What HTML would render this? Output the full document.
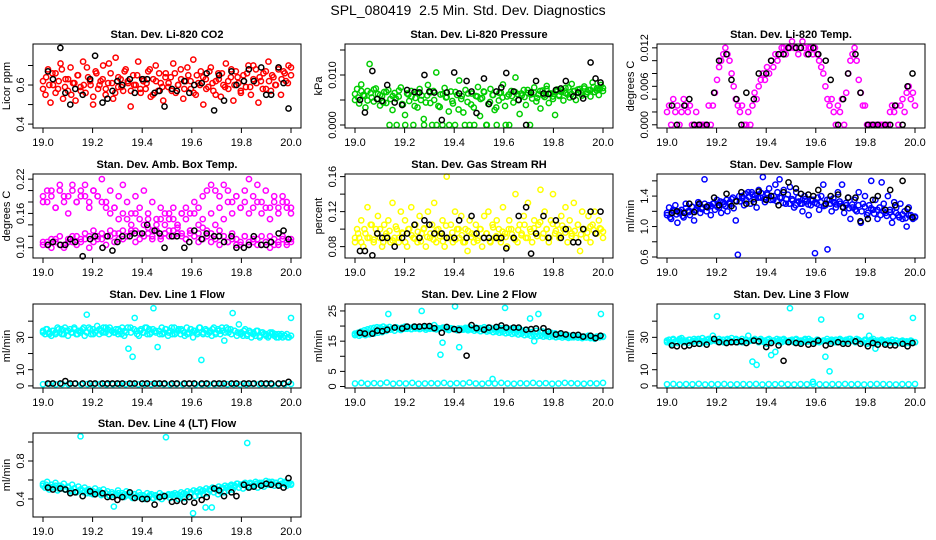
<!DOCTYPE html>
<html><head><meta charset="utf-8">
<style>
html,body{margin:0;padding:0;background:#fff;}
svg{display:block;font-family:"Liberation Sans",Arial,sans-serif;}
</style></head>
<body>
<svg id="chart" width="936" height="540" viewBox="0 0 936 540" xmlns="http://www.w3.org/2000/svg">
<rect width="936" height="540" fill="#fff"/>
<text x="468" y="15" text-anchor="middle" font-size="14">SPL_080419&#160; 2.5 Min. Std. Dev. Diagnostics</text>
</svg>
<script>
// ---- shared data ----
const xTicks = [19.0, 19.2, 19.4, 19.6, 19.8, 20.0];
const xTickLabels = ["19.0", "19.2", "19.4", "19.6", "19.8", "20.0"];
const blackTimes = [19.02,19.04,19.07,19.09,19.11,19.13,19.16,19.19,19.21,19.24,19.26,19.28,19.30,19.32,19.35,19.37,19.40,19.42,19.45,19.47,19.49,19.52,19.54,19.57,19.59,19.61,19.64,19.66,19.69,19.71,19.73,19.76,19.78,19.81,19.83,19.85,19.88,19.90,19.92,19.95,19.97,19.99];

// Panel 1: CO2
const co2Values = [0.62,0.55,0.68,0.51,0.60,0.66,0.58,0.71,0.53,0.63,0.57,0.69,0.61,0.52,0.65,0.59,0.72,0.56,0.64,0.60,0.50,0.67,0.58,0.62,0.70,0.55,0.61,0.66,0.53,0.74,0.59,0.63,0.57,0.68,0.61,0.49,0.65,0.60,0.72,0.56,0.62,0.58,0.67,0.54,0.63,0.70,0.57,0.61,0.52,0.66,0.59,0.64,0.71,0.56,0.60,0.68,0.53,0.62,0.65,0.58,0.73,0.55,0.61,0.67,0.50,0.63,0.59,0.69,0.57,0.62,0.66,0.54,0.60,0.71,0.58,0.64,0.52,0.67,0.61,0.56,0.65,0.59,0.70,0.55,0.63,0.68,0.51,0.62,0.66,0.58,0.72,0.57,0.64,0.60,0.69,0.55,0.67,0.62,0.70,0.65];
const co2Values2 = [0.58,0.64,0.60,0.66,0.56,0.62,0.68,0.59,0.63,0.55,0.61,0.65,0.57,0.60,0.69,0.62,0.54,0.66,0.60,0.63,0.58,0.71,0.61,0.56,0.64,0.59,0.67,0.62,0.57,0.60,0.65,0.58,0.63,0.61,0.68,0.55,0.62,0.66,0.59,0.64,0.61,0.57,0.66,0.60,0.63,0.58,0.69,0.62,0.56,0.65,0.60,0.64,0.58,0.67,0.61,0.55,0.63,0.66,0.59,0.62,0.68,0.60,0.64,0.57,0.62,0.66,0.59,0.70,0.61,0.64,0.58,0.67,0.62,0.65,0.60,0.68,0.63,0.66,0.61,0.69];
const co2Black = [0.67,0.63,0.79,0.56,0.50,0.58,0.55,0.63,0.75,0.51,0.53,0.57,0.62,0.60,0.63,0.56,0.63,0.63,0.56,0.57,0.49,0.58,0.57,0.62,0.56,0.60,0.61,0.66,0.47,0.65,0.52,0.67,0.60,0.62,0.68,0.62,0.69,0.55,0.55,0.69,0.61,0.48];
const co2Ticks = [0.4,0.5,0.6,0.7];
const co2TickLabels = ["0.4","","0.6",""];

// Panel 2: pressure
const presValues = [0.0050,0.0072,0.0043,0.0081,0.0060,0.0035,0.0068,0.0122,0.0055,0.0047,0.0073,0.0062,0.0039,0.0058,0.0066,0.0044,0.0070,0.0052,0.0030,0.0064,0.0000,0.0057,0.0075,0.0041,0.0020,0.0063,0.0048,0.0068,0.0000,0.0054,0.0035,0.0072,0.0059,0.0012,0.0045,0.0080,0.0065,0.0000,0.0050,0.0105,0.0038,0.0061,0.0000,0.0074,0.0056,0.0027,0.0067,0.0043,0.0000,0.0060,0.0089,0.0052,0.0025,0.0070,0.0046,0.0000,0.0063,0.0035,0.0058,0.0076,0.0018,0.0054,0.0066,0.0000,0.0042,0.0072,0.0060,0.0030,0.0000,0.0049,0.0065,0.0081,0.0038,0.0057,0.0000,0.0068,0.0045,0.0095,0.0062,0.0022,0.0059,0.0070,0.0040,0.0064,0.0000,0.0053,0.0075,0.0047,0.0061,0.0033,0.0069,0.0056,0.0078,0.0044,0.0063,0.0052,0.0020,0.0071,0.0058,0.0066,0.0049,0.0074,0.0061,0.0055,0.0082,0.0068,0.0050,0.0064,0.0072,0.0059,0.0077,0.0062,0.0070,0.0057,0.0085,0.0066,0.0073,0.0060,0.0080,0.0068];
const presValues2 = [0.0062,0.0055,0.0068,0.0058,0.0049,0.0064,0.0071,0.0052,0.0060,0.0045,0.0066,0.0000,0.0058,0.0053,0.0069,0.0042,0.0000,0.0061,0.0057,0.0038,0.0065,0.0050,0.0000,0.0059,0.0044,0.0068,0.0000,0.0036,0.0062,0.0055,0.0000,0.0048,0.0066,0.0031,0.0058,0.0000,0.0063,0.0041,0.0000,0.0057,0.0052,0.0067,0.0000,0.0046,0.0060,0.0035,0.0064,0.0055,0.0000,0.0061,0.0058,0.0066,0.0050,0.0063,0.0056,0.0070,0.0061,0.0065,0.0054,0.0068,0.0059,0.0072,0.0063,0.0057,0.0067,0.0060,0.0070,0.0064,0.0075,0.0062,0.0068,0.0071,0.0065,0.0073,0.0066,0.0070,0.0076,0.0069,0.0072,0.0074];
const presBlack = [0.0050,0.0025,0.0108,0.0052,0.0048,0.0080,0.0045,0.0040,0.0070,0.0066,0.0065,0.0100,0.0067,0.0065,0.0010,0.0065,0.0105,0.0063,0.0088,0.0067,0.0024,0.0093,0.0042,0.0067,0.0075,0.0104,0.0067,0.0050,0.0000,0.0065,0.0088,0.0063,0.0062,0.0070,0.0073,0.0088,0.0057,0.0065,0.0053,0.0125,0.0093,0.0085];
const presTicks = [0,0.005,0.010,0.015];
const presTickLabels = ["0.000","","0.010",""];

// Panel 3: Li-820 temp
const ltempValues = [0.002,0.003,0.000,0.004,0.002,0.003,0.000,0.002,0.004,0.003,0.002,0.003,0.000,0.000,0.002,0.000,0.000,0.000,0.000,0.000,0.003,0.000,0.003,0.005,0.007,0.009,0.010,0.011,0.012,0.011,0.010,0.008,0.006,0.004,0.003,0.002,0.003,0.000,0.000,0.002,0.000,0.003,0.005,0.004,0.006,0.007,0.008,0.007,0.009,0.008,0.010,0.009,0.011,0.010,0.011,0.012,0.012,0.011,0.012,0.012,0.013,0.012,0.012,0.011,0.012,0.013,0.012,0.011,0.012,0.012,0.011,0.012,0.011,0.010,0.009,0.008,0.006,0.004,0.003,0.004,0.002,0.000,0.003,0.002,0.004,0.000,0.005,0.008,0.010,0.011,0.012,0.010,0.007,0.005,0.003,0.003,0.000,0.000,0.000,0.000,0.000,0.000,0.000,0.000,0.000,0.000,0.000,0.002,0.003,0.002,0.003,0.000,0.003,0.004,0.002,0.005,0.006,0.004,0.005,0.003];
const ltempBlack = [0.003,0.000,0.003,0.004,0.000,0.000,0.000,0.005,0.010,0.011,0.007,0.004,0.000,0.005,0.004,0.008,0.008,0.010,0.011,0.011,0.012,0.012,0.012,0.011,0.012,0.011,0.010,0.007,0.000,0.004,0.008,0.011,0.005,0.000,0.000,0.000,0.000,0.000,0.003,0.000,0.006,0.008];
const ltempTicks = [0,0.002,0.004,0.006,0.008,0.010,0.012];
const ltempTickLabels = ["0.000","","","0.006","","","0.012"];

// Panel 4: amb box temp
const boxUpper = [0.19,0.18,0.20,0.17,0.21,0.19,0.16,0.20,0.18,0.19,0.21,0.17,0.20,0.19,0.22,0.18,0.20,0.17,0.19,0.21,0.18,0.16,0.19,0.17,0.20,0.16,0.18,0.15,0.17,0.16,0.15,0.17,0.14,0.16,0.15,0.13,0.16,0.14,0.15,0.13,0.16,0.14,0.17,0.15,0.18,0.16,0.19,0.17,0.20,0.22,0.19,0.21,0.18,0.20,0.17,0.19,0.16,0.18,0.17,0.16];
const boxUpper2 = [0.18,0.20,0.19,0.17,0.20,0.18,0.19,0.21,0.18,0.20,0.19,0.18,0.20,0.19,0.18,0.17,0.16,0.17,0.15,0.16,0.15,0.14,0.16,0.15,0.14,0.15,0.13,0.14,0.15,0.14,0.16,0.15,0.14,0.16,0.17,0.16,0.18,0.17,0.19,0.20,0.21,0.20,0.19,0.21,0.20,0.18,0.19,0.17,0.18,0.16,0.17,0.18,0.16,0.17,0.15,0.18,0.17,0.19,0.18,0.17];
const boxLower = [0.105,0.11,0.10,0.115,0.105,0.10,0.11,0.12,0.105,0.11,0.115,0.10,0.11,0.12,0.115,0.105,0.12,0.11,0.125,0.115,0.12,0.13,0.11,0.125,0.12,0.135,0.115,0.13,0.12,0.125,0.13,0.12,0.135,0.125,0.115,0.13,0.12,0.125,0.135,0.12,0.125,0.115,0.13,0.12,0.11,0.125,0.115,0.105,0.12,0.11,0.115,0.105,0.12,0.11,0.10,0.115,0.105,0.12,0.11,0.115];
const boxLower2 = [0.11,0.105,0.115,0.11,0.12,0.105,0.115,0.11,0.12,0.115,0.125,0.12,0.13,0.115,0.125,0.12,0.13,0.125,0.115,0.13,0.12,0.125,0.13,0.115,0.12,0.125,0.12,0.13,0.115,0.125,0.12,0.13,0.125,0.12,0.115,0.125,0.12,0.11,0.115,0.12,0.11,0.115,0.105,0.12,0.11,0.115,0.105,0.11,0.12,0.105,0.11,0.115,0.105,0.11,0.12,0.105,0.11,0.115,0.105,0.11];
const boxBlack = [0.105,0.11,0.105,0.105,0.115,0.11,0.085,0.115,0.12,0.10,0.12,0.095,0.11,0.12,0.12,0.125,0.125,0.14,0.13,0.125,0.10,0.12,0.12,0.10,0.11,0.13,0.115,0.125,0.12,0.12,0.11,0.12,0.10,0.10,0.105,0.12,0.105,0.105,0.11,0.125,0.13,0.115];
const boxTicks = [0.10,0.12,0.14,0.16,0.18,0.20,0.22];
const boxTickLabels = ["0.10","","","0.16","","","0.22"];

// Panel 5: RH
const rhValues = [0.085,0.10,0.09,0.11,0.08,0.095,0.125,0.09,0.105,0.085,0.10,0.115,0.09,0.08,0.105,0.095,0.11,0.085,0.13,0.09,0.10,0.085,0.12,0.095,0.11,0.08,0.10,0.125,0.09,0.105,0.085,0.115,0.095,0.10,0.08,0.12,0.09,0.105,0.13,0.085,0.10,0.095,0.11,0.08,0.16,0.09,0.105,0.085,0.12,0.10,0.09,0.115,0.085,0.10,0.075,0.11,0.095,0.085,0.105,0.09,0.10,0.08,0.115,0.095,0.12,0.085,0.105,0.09,0.11,0.10,0.085,0.125,0.095,0.08,0.11,0.10,0.09,0.14,0.085,0.105,0.095,0.115,0.09,0.13,0.10,0.085,0.11,0.095,0.105,0.145,0.09,0.12,0.10,0.085,0.11,0.14,0.095,0.105,0.09,0.115,0.10,0.125,0.085,0.11,0.095,0.13,0.09,0.105,0.075,0.12,0.10,0.09,0.115,0.085,0.105,0.12,0.095,0.11,0.10,0.09];
const rhValues2 = [0.09,0.095,0.085,0.10,0.09,0.105,0.088,0.095,0.10,0.085,0.092,0.098,0.087,0.103,0.09,0.096,0.085,0.10,0.093,0.089,0.097,0.086,0.101,0.091,0.095,0.088,0.099,0.092,0.086,0.104,0.09,0.096,0.088,0.10,0.093,0.085,0.098,0.091,0.094,0.087,0.10,0.09,0.095,0.086,0.102,0.092,0.089,0.097,0.091,0.10,0.094,0.088,0.099,0.093,0.105,0.09,0.097,0.101,0.092,0.108,0.095,0.10,0.09,0.106,0.098,0.093,0.104,0.096,0.10,0.092,0.098,0.105,0.094,0.10,0.096,0.103,0.099,0.095,0.101,0.097];
const rhBlack = [0.075,0.075,0.07,0.095,0.09,0.09,0.08,0.09,0.095,0.105,0.09,0.11,0.105,0.095,0.095,0.09,0.09,0.11,0.09,0.115,0.095,0.09,0.09,0.09,0.09,0.078,0.09,0.115,0.125,0.072,0.095,0.115,0.09,0.11,0.09,0.10,0.085,0.085,0.10,0.12,0.095,0.12];
const rhTicks = [0.08,0.10,0.12,0.14,0.16];
const rhTickLabels = ["0.08","","0.12","","0.16"];

// Panel 6: sample flow
const sflowValues = [1.15,1.25,1.10,1.20,1.28,1.05,1.18,1.22,1.12,1.30,1.20,1.15,1.26,1.08,1.22,1.32,1.18,1.25,1.62,1.20,1.28,1.15,1.30,1.22,1.35,1.25,1.18,1.32,1.27,1.20,1.30,1.36,1.24,1.08,0.63,1.33,1.40,1.28,1.35,1.45,1.30,1.42,1.36,1.25,1.48,1.38,1.65,1.32,1.44,1.50,1.40,1.35,1.55,1.45,1.62,1.38,1.48,1.30,1.42,1.52,1.36,1.25,1.45,1.38,1.30,1.20,1.40,1.33,1.15,1.28,1.35,0.65,1.30,1.22,1.40,1.55,1.28,0.70,1.35,1.20,1.32,1.25,1.45,1.30,1.55,1.18,1.28,1.38,1.10,1.25,1.35,1.20,1.45,1.05,1.30,1.40,1.15,1.28,1.60,1.22,1.35,1.10,1.25,1.58,1.30,1.18,1.40,1.22,1.05,1.32,1.25,1.15,1.30,1.10,1.20,1.00,1.25,1.15,1.10,1.12];
const sflowValues2 = [1.18,1.12,1.22,1.16,1.20,1.14,1.24,1.19,1.26,1.21,1.28,1.23,1.30,1.25,1.27,1.31,1.26,1.33,1.29,1.35,1.32,1.38,1.34,1.40,1.37,1.43,1.39,1.45,1.41,1.38,1.44,1.36,1.42,1.35,1.40,1.33,1.38,1.31,1.36,1.30,1.34,1.28,1.33,1.30,1.36,1.29,1.35,1.31,1.38,1.32,1.27,1.35,1.30,1.37,1.29,1.33,1.26,1.31,1.24,1.29,1.22,1.28,1.20,1.26,1.18,1.24,1.17,1.22,1.15,1.20,1.14,1.19,1.13,1.18,1.12,1.16,1.11,1.15,1.12,1.13];
const sflowBlack = [1.18,1.20,1.18,1.30,1.19,1.30,1.26,1.38,1.28,1.43,1.27,1.33,1.45,1.30,1.32,1.46,1.35,1.40,1.28,1.45,1.58,1.50,1.43,1.42,1.40,1.48,1.30,1.40,1.42,1.25,1.38,1.38,1.07,1.10,1.35,1.40,1.22,1.48,1.28,1.60,1.23,1.12];
const sflowTicks = [0.6,0.8,1.0,1.2,1.4,1.6];
const sflowTickLabels = ["0.6","","1.0","","1.4",""];

// Panel 7: line 1 flow
const l1Values = [34,32,35,33,31,34,32,36,33,35,32,34,31,35,33,36,32,34,33,35,31,44,36,32,35,33,37,32,34,36,33,35,36,34,33,35,32,34,36,31,33,23,36,18,42,34,31,35,33,36,32,35,33,48,34,24,32,36,33,35,31,34,32,36,33,35,32,34,31,36,33,35,30,34,32,36,16,33,35,32,34,31,36,33,35,32,34,28,36,33,35,45,34,31,38,33,31,35,32,34,30,33,31,34,30,33,32,31,30,33,32,31,30,32,31,30,31,32,30,42];
const l1Values2 = [33,35,32,34,33,35,32,36,34,33,35,32,34,36,33,35,32,34,35,33,36,32,34,33,35,32,34,36,33,35,32,34,33,36,32,35,33,34,32,35,33,36,32,34,35,33,32,35,34,33,36,32,34,33,35,32,34,36,33,35,32,34,33,32,34,31,33,32,34,31,33,32,31,33,32,30,32,31,30,31];
const l1Low = [1.0,1.2,0.9,1.1,1.0,1.3,0.9,1.1,1.0,1.2,0.9,1.0,1.1,1.0,1.2,0.9,1.1,1.0,1.3,1.0,0.9,1.1,1.0,1.2,1.0,0.9,1.1,1.0,1.2,1.0,1.1,0.9,1.0,1.2,1.1,1.0,0.9,1.1,1.0,1.2];
const l1Black = [1.5,1.5,1.5,3.0,1.5,1.5,1.5,1.5,1.5,1.5,1.5,1.5,1.5,1.5,1.5,1.5,1.5,1.5,1.5,1.5,1.5,1.5,1.5,1.5,1.5,1.5,1.5,1.5,1.5,1.5,1.5,1.5,1.5,1.5,1.5,1.5,1.5,1.5,1.5,1.5,1.5,2.5];
const l1Ticks = [0,10,20,30,40];
const l1TickLabels = ["0","10","","30",""];

// Panel 8: line 2 flow
const l2Values = [17,17.5,16.8,17.2,17.6,17,17.8,17.3,18,17.5,18.2,17.8,18.5,18,19,18.4,24,18.8,19.2,18.5,19.5,19,18.7,19.3,19.8,19.1,19.5,19,19.7,19.2,19.5,19,25,19.4,18.8,19.6,19.1,19.4,20.3,18.9,19.2,10.5,14.5,19.5,19,18.7,19.3,19.1,26.5,18.6,13,19.1,18.8,19.4,19,19.6,18.9,19.2,19.5,18.8,19.3,19,19.6,19.1,18.7,19.4,2.5,19.2,18.9,19.5,18.8,19.3,26,19,18.7,19.2,18.9,19.1,18.5,19,18.6,18.2,18.8,18.3,22.5,18,15,18.4,24,17.9,18.2,17.6,18,17.4,17.8,17.2,17.6,17,17.3,16.8,17.1,16.6,17,16.5,16.8,16.3,16.7,16.2,16.6,16,16.5,16.2,16.8,16,16.4,15.8,16.3,16.5,24,16.6];
const l2Values2 = [17.5,17.8,18.2,18.6,18.9,19.2,19.4,19.6,19.5,19.8,19.4,19.7,19.3,19.6,19.2,19.5,19.1,19.4,19.0,19.3,19.5,19.2,19.6,19.3,19.7,19.1,19.4,19.2,19.5,19.0,19.3,19.1,18.9,19.2,18.8,19.0,18.6,18.9,18.5,18.7,18.3,18.6,18.2,18.4,18.0,18.2,17.8,18.0,17.6,17.8,17.4,17.6,17.2,17.4,17.0,17.2,16.8,17.0,16.6,16.8,16.5,16.7,16.4,16.6,16.3,16.5,16.2,16.4,16.1,16.3,16.4,16.2,16.5,16.3,16.6,16.4,16.2,16.5,16.3,16.4];
const l2Low = [1.0,1.2,0.9,1.1,1.0,1.3,0.9,1.1,1.0,1.2,0.9,1.0,1.1,1.0,1.2,0.9,1.1,1.0,1.3,1.0,0.9,1.1,1.0,1.2,1.0,0.9,1.1,1.0,1.2,1.0,1.1,0.9,1.0,1.2,1.1,1.0,0.9,1.1,1.0,1.2];
const l2Black = [17.8,17.5,17.5,18.5,18.3,18.8,19.5,19.2,19.8,19.8,19.8,20,20,19.3,17.8,19.7,19,18.7,10.2,20.3,19.3,18.8,19.5,19.7,20.2,19.5,19.5,19.5,18.8,19,19.2,19.3,18.2,17.2,17.6,17.2,17,17.1,16.5,16.8,16,16.8];
const l2Ticks = [0,5,10,15,20,25];
const l2TickLabels = ["0","5","","15","","25"];

// Panel 9: line 3 flow
const l3Values = [27,28.5,26,29,27.5,26.5,28,29.5,27,28,26.5,28.5,27,29,27.5,28,26,29.5,27,28.5,29,27.5,31,28,43,29,27.5,28.5,27,29,28,29.5,27.5,28.5,27,28,29,27.5,28.5,31,28,15,28.5,13,27,29,27.5,28,26,29,19,28,21,27.5,28.5,27,29,28,27.5,48,28.5,27,29,27.5,28,27,28.5,27.5,29,28,2.5,27.5,28.5,27,41,28,18,27.5,9,28.5,27,28.5,27.5,29,28,27,28.5,27.5,29,28,27.5,29,28,43,27,28.5,26,31,27.5,29,23,28,27,28.5,27.5,26.5,28,27,28.5,27,28,26.5,27.5,28,26,27.5,27,28,42,27];
const l3Values2 = [28,27,28.5,27.5,29,28,27,28.5,27.5,28,29,27.5,28,27,28.5,29,27.5,28,27,28.5,28,27.5,29,28,27,28.5,27.5,28,29,27.5,28,27,28.5,27.5,28,29,27,28.5,27.5,28,27.5,28.5,27,28,29,27.5,28,27,28.5,27.5,28,29,27.5,28,27,28.5,28,27.5,29,28,27,28.5,27.5,28,27,28.5,27.5,27,28,27.5,26.5,27.5,27,28,26.5,27.5,27,26.5,27.5,27];
const l3Low = [1.0,1.2,0.9,1.1,1.0,1.3,0.9,1.1,1.0,1.2,0.9,1.0,1.1,1.0,1.2,0.9,1.1,1.0,1.3,1.0,0.9,1.1,1.0,1.2,1.0,0.9,1.1,1.0,1.2,1.0,1.1,0.9,1.0,1.2,1.1,1.0,0.9,1.1,1.0,1.2];
const l3Black = [25,24.5,24.5,25,26,26,25.5,29,27,26.5,27,27,27.5,26.5,28,27.5,24,26.5,25,15.5,27,26.5,26,25.5,26,28,25,26,27,26,26,27.5,26,24.5,26.5,25.5,25.5,25,25,26,24.5,26.5];
const l3Ticks = [0,10,20,30,40];
const l3TickLabels = ["0","10","","30",""];

// Panel 10: line 4 (LT) flow
const l4Values = [0.56,0.52,0.58,0.50,0.55,0.53,0.57,0.49,0.54,0.52,0.56,0.50,0.53,0.48,0.55,0.51,0.47,0.53,1.06,0.49,0.52,0.46,0.50,0.48,0.45,0.51,0.47,0.49,0.44,0.50,0.46,0.48,0.43,0.47,0.32,0.45,0.49,0.44,0.46,0.42,0.48,0.44,0.46,0.41,0.45,0.43,0.47,0.42,0.44,0.40,0.46,0.43,0.45,0.41,0.44,0.42,0.46,0.40,0.43,1.05,0.44,0.41,0.45,0.42,0.44,0.40,0.43,0.45,0.41,0.44,0.42,0.46,0.25,0.43,0.47,0.44,0.48,0.45,0.31,0.46,0.49,0.31,0.47,0.50,0.45,0.48,0.51,0.47,0.52,0.49,0.54,0.50,0.53,0.56,0.52,0.55,0.51,0.57,0.99,0.53,0.56,0.54,0.58,0.52,0.55,0.57,0.53,0.59,0.55,0.56,0.58,0.54,0.57,0.55,0.59,0.56,0.58,0.54,0.57,0.56];
const l4Values2 = [0.54,0.55,0.53,0.52,0.54,0.51,0.53,0.50,0.52,0.49,0.51,0.48,0.50,0.47,0.49,0.46,0.48,0.46,0.47,0.45,0.46,0.44,0.45,0.44,0.46,0.43,0.45,0.44,0.43,0.45,0.42,0.44,0.43,0.42,0.44,0.41,0.43,0.42,0.44,0.43,0.45,0.44,0.46,0.45,0.47,0.46,0.48,0.47,0.49,0.48,0.50,0.49,0.51,0.50,0.52,0.51,0.53,0.52,0.54,0.53,0.55,0.54,0.56,0.55,0.56,0.54,0.57,0.55,0.56,0.57,0.55,0.56,0.58,0.56,0.57,0.55,0.56,0.57,0.56,0.55];
const l4Black = [0.52,0.50,0.51,0.50,0.46,0.47,0.43,0.48,0.45,0.46,0.42,0.42,0.39,0.42,0.47,0.41,0.40,0.40,0.34,0.42,0.43,0.37,0.38,0.37,0.42,0.36,0.39,0.42,0.51,0.49,0.43,0.47,0.43,0.55,0.52,0.53,0.54,0.56,0.55,0.54,0.52,0.62];
const l4Ticks = [0.4,0.6,0.8,1.0];
const l4TickLabels = ["0.4","","0.8",""];

const panels = [
 {name:"co2", title:"Stan. Dev. Li-820 CO2", ylab:"Licor ppm", col:0,row:0, ylo:0.38, yhi:0.81, ticks:co2Ticks, labels:co2TickLabels, color:"#ff0000", series:[co2Values,co2Values2], black:co2Black},
 {name:"pressure", title:"Stan. Dev. Li-820 Pressure", ylab:"kPa", col:1,row:0, ylo:-0.0006, yhi:0.0162, ticks:presTicks, labels:presTickLabels, color:"#00cd00", series:[presValues,presValues2], black:presBlack},
 {name:"li820-temp", title:"Stan. Dev. Li-820 Temp.", ylab:"degrees C", col:2,row:0, ylo:-0.0005, yhi:0.0126, ticks:ltempTicks, labels:ltempTickLabels, color:"#ff00ff", series:[ltempValues], black:ltempBlack},
 {name:"amb-box-temp", title:"Stan. Dev. Amb. Box Temp.", ylab:"degrees C", col:0,row:1, ylo:0.082, yhi:0.229, ticks:boxTicks, labels:boxTickLabels, color:"#ff00ff", series:[boxUpper,boxLower,boxUpper2,boxLower2], black:boxBlack},
 {name:"gas-stream-rh", title:"Stan. Dev. Gas Stream RH", ylab:"percent", col:1,row:1, ylo:0.067, yhi:0.163, ticks:rhTicks, labels:rhTickLabels, color:"#ffff00", series:[rhValues,rhValues2], black:rhBlack},
 {name:"sample-flow", title:"Stan. Dev. Sample Flow", ylab:"ml/min", col:2,row:1, ylo:0.587, yhi:1.69, ticks:sflowTicks, labels:sflowTickLabels, color:"#0000ff", series:[sflowValues,sflowValues2], black:sflowBlack},
 {name:"line1-flow", title:"Stan. Dev. Line 1 Flow", ylab:"ml/min", col:0,row:2, ylo:-1.3, yhi:50.6, ticks:l1Ticks, labels:l1TickLabels, color:"#00ffff", series:[l1Values,l1Values2,l1Low], black:l1Black},
 {name:"line2-flow", title:"Stan. Dev. Line 2 Flow", ylab:"ml/min", col:1,row:2, ylo:-0.5, yhi:27.3, ticks:l2Ticks, labels:l2TickLabels, color:"#00ffff", series:[l2Values,l2Values2,l2Low], black:l2Black},
 {name:"line3-flow", title:"Stan. Dev. Line 3 Flow", ylab:"ml/min", col:2,row:2, ylo:-1.3, yhi:50.6, ticks:l3Ticks, labels:l3TickLabels, color:"#00ffff", series:[l3Values,l3Values2,l3Low], black:l3Black},
 {name:"line4-flow", title:"Stan. Dev. Line 4 (LT) Flow", ylab:"ml/min", col:0,row:3, ylo:0.21, yhi:1.095, ticks:l4Ticks, labels:l4TickLabels, color:"#00ffff", series:[l4Values,l4Values2], black:l4Black}
];

const NS = "http://www.w3.org/2000/svg";
const svg = document.getElementById("chart");
const colLeft = [33, 345, 657];
const rowTop = [44, 174, 304, 433];
const boxW = 268, boxH = 84, xPad = 10, xSpan = 248;

function mk(tag, attrs, parent) {
  const e = document.createElementNS(NS, tag);
  for (const k in attrs) e.setAttribute(k, attrs[k]);
  parent.appendChild(e);
  return e;
}

panels.forEach(p => {
  const L = colLeft[p.col], T = rowTop[p.row];
  const xs = t => L + xPad + (t - 19) * xSpan;
  const ys = v => T + boxH - (v - p.ylo) / (p.yhi - p.ylo) * boxH;
  const g = mk("g", {}, svg);
  
  

  const title = mk("text", {x: L + boxW/2, y: T - 6, "text-anchor":"middle", "font-size":"11", "font-weight":"bold"}, g);
  title.textContent = p.title;
  
  

  const pts = mk("g", {fill:"none", stroke:p.color, "stroke-width":"1.5"}, g);
  
  
  p.series.forEach(arr => {
    const n = arr.length;
    arr.forEach((v, i) => {
      const c = mk("circle", {cx: xs(19 + i/(n-1)), cy: ys(v), r: 2.6}, pts);
      
      
    });
  });
  const bpts = mk("g", {fill:"none", stroke:"#000", "stroke-width":"1.5"}, g);
  
  
  const nb = Math.min(p.black.length, blackTimes.length);
  for (let i = 0; i < nb; i++) {
    const c = mk("circle", {cx: xs(blackTimes[i]), cy: ys(p.black[i]), r: 2.6}, bpts);
    
    
  }

  const box = mk("rect", {x:L, y:T, width:boxW, height:boxH, fill:"none", stroke:"#000", "stroke-width":"1"}, g);
  
  

  const xa = mk("g", {}, g);
  
  
  mk("line", {x1: xs(xTicks[0]), x2: xs(xTicks[xTicks.length-1]), y1: T+boxH, y2: T+boxH, stroke:"#000"}, xa);
  xTicks.forEach((t, i) => {
    mk("line", {x1: xs(t), x2: xs(t), y1: T+boxH, y2: T+boxH+5, stroke:"#000"}, xa);
    const tx = mk("text", {x: xs(t), y: T+boxH+18, "text-anchor":"middle", "font-size":"11"}, xa);
    tx.textContent = xTickLabels[i];
    
    
  });

  const ya = mk("g", {}, g);
  
  
  p.ticks.forEach((v, i) => {
    const y = ys(v);
    mk("line", {x1: L-5, x2: L, y1: y, y2: y, stroke:"#000"}, ya);
    if (p.labels[i]) {
      const tx = mk("text", {x: L-9, y: y, "text-anchor":"middle", "font-size":"11", transform:`rotate(-90 ${L-9} ${y})`}, ya);
      tx.textContent = p.labels[i];
      
      
    }
  });
  mk("line", {x1: L, x2: L, y1: ys(p.ticks[0]), y2: ys(p.ticks[p.ticks.length-1]), stroke:"#000"}, ya);
  const yl = mk("text", {x: L-23, y: T+boxH/2, "text-anchor":"middle", "font-size":"11", transform:`rotate(-90 ${L-23} ${T+boxH/2})`}, ya);
  yl.textContent = p.ylab;
  
  
});
</script>
</body></html>
